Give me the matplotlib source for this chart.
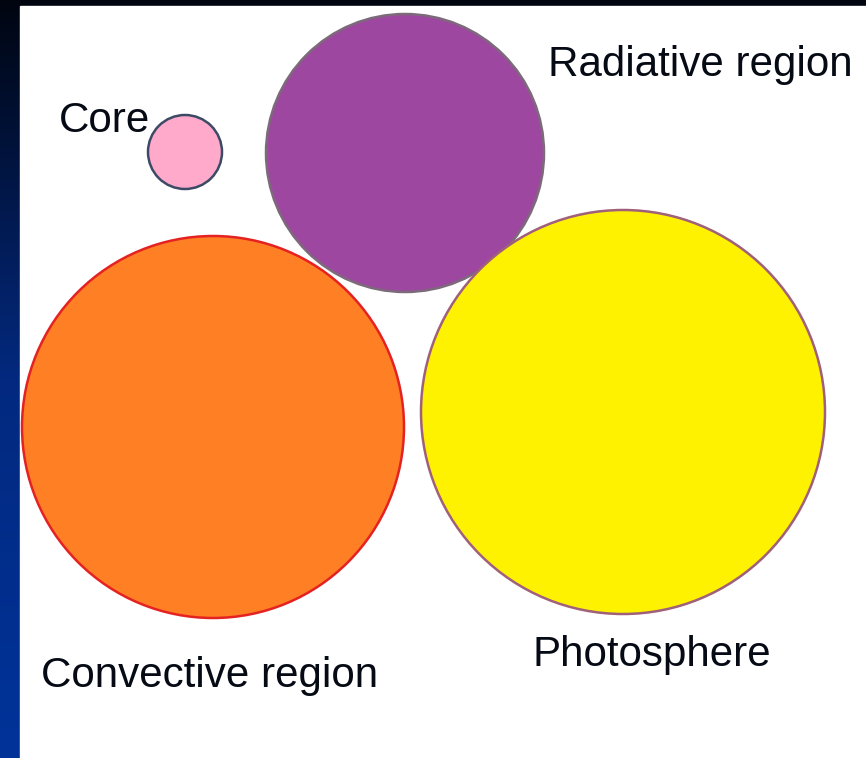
import numpy as np
import matplotlib
matplotlib.use("Agg")
import matplotlib.pyplot as plt
from matplotlib.patches import Circle

# ------------------------------------------------------------
# Diagram data: regions of the Sun (pixel coordinates, y down)
# ------------------------------------------------------------
regions  = ["Convective region", "Core", "Radiative region", "Photosphere"]
center_x = [213, 185, 405, 623]
center_y = [427, 152, 153, 412]
radius   = [191, 37, 139, 202]

fills    = ["#ff7f24", "#ffaacb", "#9e47a0", "#fff200"]
edges    = ["#e52222", "#3d4a66", "#7c6a7a", "#a0607a"]

# label anchor (left, baseline)
label_x  = [41, 59, 548, 533]
label_y  = [687, 132, 76, 666]

W, H = 866, 758
fig = plt.figure(figsize=(W / 100, H / 100), dpi=100)
ax = fig.add_axes([0, 0, 1, 1])
ax.set_xlim(0, W)
ax.set_ylim(H, 0)
ax.axis("off")

# slide background: dark top band + blue gradient strip on the left
grad = np.linspace(0, 1, 256).reshape(-1, 1)
cmap = matplotlib.colors.LinearSegmentedColormap.from_list(
    "slide", ["#000510", "#03297f", "#003399"])
ax.imshow(grad, cmap=cmap, extent=[0, W, H, 0], aspect="auto", zorder=0)
ax.add_patch(plt.Rectangle((20, 6), W - 20, H - 6, color="white", zorder=1))

for i in range(len(regions)):
    c = Circle((center_x[i], center_y[i]), radius[i],
               facecolor=fills[i], edgecolor=edges[i],
               linewidth=1.8, zorder=2 + i)
    ax.add_patch(c)
    ax.text(label_x[i], label_y[i], regions[i], fontsize=30.3,
            family="Liberation Sans", color="#050a14",
            ha="left", va="baseline", zorder=10)

plt.savefig("out.png", dpi=100)
